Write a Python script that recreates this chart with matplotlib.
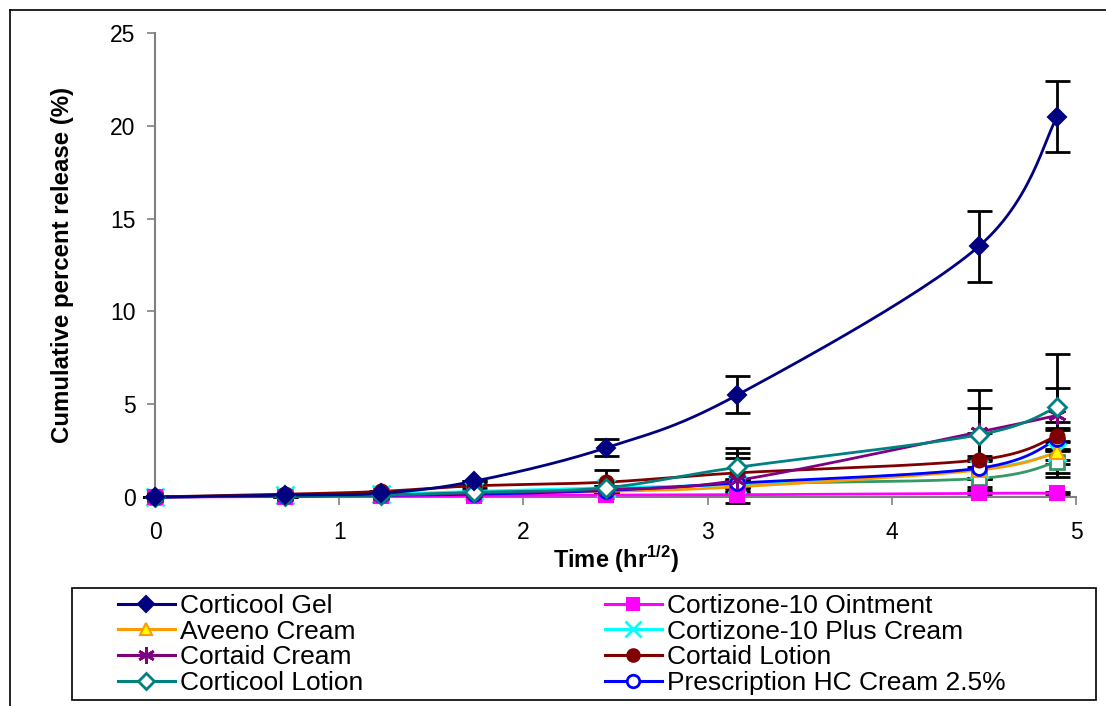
import numpy as np
import matplotlib.pyplot as plt
from matplotlib.lines import Line2D
from matplotlib.patches import Rectangle

plt.rcParams['font.family'] = ['Liberation Sans', 'DejaVu Sans']
plt.rcParams['mathtext.fontset'] = 'custom'
plt.rcParams['mathtext.rm'] = 'Liberation Sans'
plt.rcParams['mathtext.bf'] = 'Liberation Sans:bold'

# time in hr^1/2
t = [0, 0.707, 1.225, 1.732, 2.449, 3.162, 4.472, 4.899]

corticool_gel = [0, 0.1, 0.2, 0.85, 2.65, 5.5, 13.5, 20.5]
corticool_gel_err = [0, 0, 0, 0, 0.45, 1.0, 1.9, 1.9]
cortizone_ointment = [0, 0.02, 0.05, 0.08, 0.1, 0.12, 0.2, 0.2]
cortizone_ointment_err = [0, 0, 0, 0, 0, 0, 0.05, 0.05]
aveeno_cream = [0, 0.05, 0.1, 0.2, 0.3, 0.55, 1.45, 2.4]
aveeno_cream_err = [0, 0, 0, 0.05, 0.1, 0.2, 0.5, 1.3]
cortizone_plus = [0, 0.1, 0.15, 0.3, 0.5, 0.7, 1.5, 2.4]
cortizone_plus_err = [0, 0, 0, 0.05, 0.1, 0.2, 0.5, 0.6]
cortaid_cream = [0, 0.05, 0.1, 0.2, 0.4, 0.9, 3.5, 4.4]
cortaid_cream_err = [0, 0, 0, 0.05, 0.1, 1.2, 1.3, 1.45]
cortaid_lotion = [0, 0.15, 0.3, 0.6, 0.8, 1.3, 2.0, 3.3]
cortaid_lotion_err = [0, 0, 0.05, 0.1, 0.65, 1.05, 1.45, 0.75]
corticool_lotion = [0, 0.05, 0.1, 0.25, 0.5, 1.6, 3.35, 4.85]
corticool_lotion_err = [0, 0, 0, 0.05, 0.1, 1.05, 2.4, 2.85]
prescription_hc = [0, 0.05, 0.1, 0.15, 0.35, 0.75, 1.55, 3.1]
prescription_hc_err = [0, 0, 0, 0.05, 0.1, 0.2, 0.5, 0.5]
extra_cream = [0, 0.05, 0.1, 0.2, 0.35, 0.7, 1.0, 1.9]
extra_cream_err = [0, 0, 0, 0.05, 0.1, 0.2, 0.6, 0.6]


def smooth(x, y, n=30):
    # excel-like smoothed line (catmull-rom bezier)
    x = np.asarray(x, float)
    y = np.asarray(y, float)
    p = np.column_stack([x, y])
    p = np.vstack([p[0], p, p[-1]])
    out = []
    s = np.linspace(0, 1, n)[:, None]
    for i in range(1, len(p) - 2):
        p0, p1, p2, p3 = p[i - 1], p[i], p[i + 1], p[i + 2]
        c1 = p1 + (p2 - p0) / 6
        c2 = p2 - (p3 - p1) / 6
        seg = ((1 - s)**3) * p1 + 3 * ((1 - s)**2) * s * c1 + 3 * (1 - s) * s**2 * c2 + s**3 * p2
        out.append(seg)
    out = np.vstack(out)
    return out[:, 0], out[:, 1]


W, H = 1106, 706
fig = plt.figure(figsize=(W / 100, H / 100), dpi=100)
ax = fig.add_axes([155/W, 1 - 497/H, (1076 - 155)/W, (497 - 33)/H])

series = [
    # values, errors, color, marker, markerface, label
    (extra_cream, extra_cream_err, '#339966', 's', 'white', None),
    (cortizone_plus, cortizone_plus_err, '#00FFFF', 'x', '#00FFFF', 'Cortizone-10 Plus Cream'),
    (aveeno_cream, aveeno_cream_err, '#FF9900', '^', '#FFFF00', 'Aveeno Cream'),
    (cortizone_ointment, cortizone_ointment_err, '#FF00FF', 's', '#FF00FF', 'Cortizone-10 Ointment'),
    (prescription_hc, prescription_hc_err, '#0000FF', 'o', 'white', 'Prescription HC Cream 2.5%'),
    (cortaid_lotion, cortaid_lotion_err, '#800000', 'o', '#800000', 'Cortaid Lotion'),
    (cortaid_cream, cortaid_cream_err, '#800080', (6, 2, 0), '#800080', 'Cortaid Cream'),
    (corticool_lotion, corticool_lotion_err, '#008080', 'D', 'white', 'Corticool Lotion'),
    (corticool_gel, corticool_gel_err, '#000080', 'D', '#000080', 'Corticool Gel'),
]

handles = {}
for vals, err, col, mk, mfc, lab in series:
    ax.errorbar(t, vals, yerr=err, fmt='none', ecolor='black', elinewidth=2,
                capsize=9, capthick=2, zorder=2, clip_on=False)
    sx, sy = smooth(t, vals)
    ax.plot(sx, sy, color=col, lw=2, zorder=3, clip_on=False)
    if mk == 'D':
        ms = 9
    elif mk in ('x', (6, 2, 0)):
        ms = 13
    else:
        ms = 10
    mew = 2 if mfc == 'white' or mk in ('x', (6, 2, 0)) else 1.5
    ax.plot(t, vals, ls='none', marker=mk, ms=ms, mfc=mfc, mec=col, mew=mew,
            zorder=4, clip_on=False)
    if lab:
        handles[lab] = Line2D([], [], color=col, lw=2.2, marker=mk, ms=ms - 1,
                              mfc=mfc, mec=col, mew=mew)

ax.set_xlim(0, 5)
ax.set_ylim(0, 25)
ax.set_xticks([0, 1, 2, 3, 4, 5])
ax.set_yticks([0, 5, 10, 15, 20, 25])
for s in ['top', 'right']:
    ax.spines[s].set_visible(False)
for s in ['left', 'bottom']:
    ax.spines[s].set_color('#808080')
    ax.spines[s].set_linewidth(1.5)
ax.tick_params(colors='#808080', labelcolor='black', labelsize=16.5, length=6, width=1.2)
ax.tick_params(axis='x', pad=11)
ax.tick_params(axis='y', pad=8)

ax.set_xlabel(r'Time (hr$^{\mathbf{1/2}}$)', fontsize=17, fontweight='bold', labelpad=0)
ax.set_ylabel('Cumulative percent release (%)', fontsize=17.3, fontweight='bold', labelpad=26)

col1 = ['Corticool Gel', 'Aveeno Cream', 'Cortaid Cream', 'Corticool Lotion']
col2 = ['Cortizone-10 Ointment', 'Cortizone-10 Plus Cream', 'Cortaid Lotion',
        'Prescription HC Cream 2.5%']

# legend frame
fig.add_artist(Rectangle((72/W, 1 - 700/H), (1096 - 72)/W, (700 - 588)/H,
                         transform=fig.transFigure, facecolor='white',
                         edgecolor='black', lw=1.2, zorder=5))
for names, xleft in [(col1, 118), (col2, 605)]:
    lg = fig.legend([handles[k] for k in names], names, loc='upper left',
                    bbox_to_anchor=(xleft/W, 1 - 594/H), fontsize=19,
                    frameon=False, handlelength=2.15, handletextpad=0.2,
                    labelspacing=0.065, borderpad=0, borderaxespad=0)
    lg.set_zorder(6)

# outer chart frame
fig.add_artist(Line2D([10/W, 10/W], [0, 1 - 10/H], color='black', lw=1.2))
fig.add_artist(Line2D([10/W, 1], [1 - 10/H, 1 - 10/H], color='black', lw=1.2))

fig.savefig('out.png', dpi=100)
